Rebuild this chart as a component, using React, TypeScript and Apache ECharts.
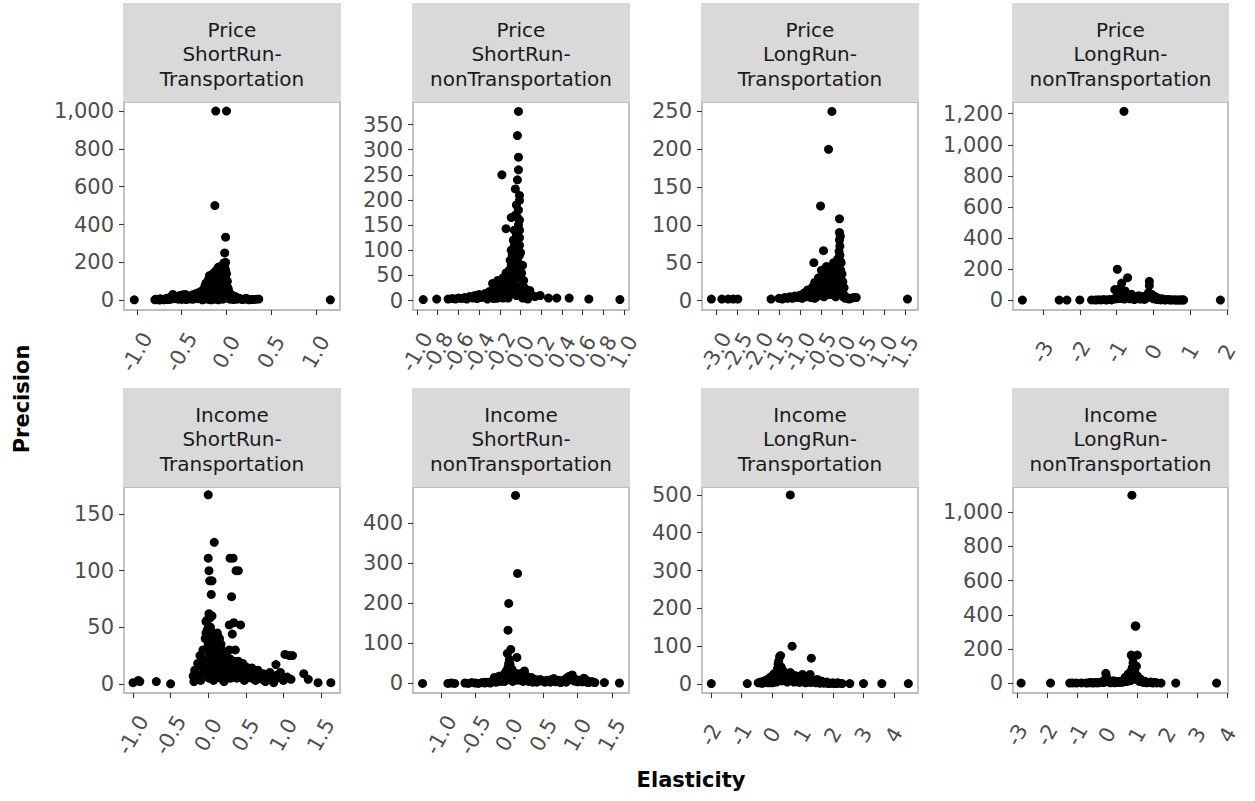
import React, { useEffect, useRef } from "react";
import * as echarts from "echarts";

// ---------- DATA ----------
const facetTitles: string[] = [
  "Price\nShortRun-\nTransportation",
  "Price\nShortRun-\nnonTransportation",
  "Price\nLongRun-\nTransportation",
  "Price\nLongRun-\nnonTransportation",
  "Income\nShortRun-\nTransportation",
  "Income\nShortRun-\nnonTransportation",
  "Income\nLongRun-\nTransportation",
  "Income\nLongRun-\nnonTransportation",
];

const priceSRT: number[][] = [
  [-1.03, 2], [-0.80, 2], [-0.79, 5], [-0.77, 3], [-0.75, 1], [-0.74, 8], [-0.72, 4], [-0.70, 2], [-0.68, 6], [-0.67, 10],
  [-0.65, 3], [-0.63, 15], [-0.62, 5], [-0.60, 30], [-0.58, 8], [-0.57, 20], [-0.55, 12], [-0.54, 5], [-0.52, 25], [-0.50, 4],
  [-0.49, 28], [-0.48, 18], [-0.46, 30], [-0.45, 3], [-0.44, 10], [-0.42, 22], [-0.41, 15], [-0.40, 6], [-0.38, 28], [-0.37, 5],
  [-0.36, 15], [-0.34, 35], [-0.33, 20], [-0.32, 8], [-0.31, 40], [-0.30, 20], [-0.29, 45], [-0.28, 12], [-0.27, 30], [-0.27, 2],
  [-0.26, 55], [-0.25, 5], [-0.24, 75], [-0.23, 90], [-0.23, 25], [-0.22, 40], [-0.22, 20], [-0.21, 60], [-0.21, 5], [-0.20, 110],
  [-0.20, 8], [-0.19, 130], [-0.19, 35], [-0.19, 12], [-0.18, 80], [-0.18, 3], [-0.17, 125], [-0.17, 50], [-0.17, 2], [-0.16, 95],
  [-0.16, 15], [-0.15, 140], [-0.15, 65], [-0.15, 30], [-0.14, 25], [-0.14, 110], [-0.13, 500], [-0.13, 150], [-0.13, 45], [-0.13, 5],
  [-0.12, 1000], [-0.12, 85], [-0.12, 10], [-0.11, 160], [-0.11, 120], [-0.11, 40], [-0.10, 60], [-0.10, 30], [-0.09, 175], [-0.09, 50],
  [-0.09, 2], [-0.08, 140], [-0.08, 90], [-0.07, 170], [-0.07, 40], [-0.07, 8], [-0.06, 150], [-0.06, 70], [-0.05, 180], [-0.05, 60],
  [-0.05, 20], [-0.04, 120], [-0.04, 5], [-0.03, 197], [-0.03, 100], [-0.03, 30], [-0.02, 250], [-0.02, 60], [-0.01, 333], [-0.01, 130],
  [-0.01, 45], [0.0, 1000], [0.0, 90], [0.0, 15], [0.01, 100], [0.02, 45], [0.02, 10], [0.03, 25], [0.04, 5], [0.05, 30],
  [0.06, 15], [0.07, 10], [0.08, 3], [0.10, 18], [0.12, 5], [0.15, 8], [0.18, 3], [0.20, 6], [0.22, 10], [0.25, 2],
  [0.28, 4], [0.33, 5], [0.36, 6], [1.16, 2],
  [-0.35, 25], [-0.33, 10], [-0.31, 22], [-0.29, 15], [-0.28, 35], [-0.26, 20], [-0.25, 45], [-0.24, 30], [-0.24, 10], [-0.23, 55],
  [-0.22, 70], [-0.21, 35], [-0.20, 50], [-0.20, 90], [-0.19, 70], [-0.18, 100], [-0.18, 45], [-0.17, 85], [-0.16, 60], [-0.16, 120],
  [-0.15, 100], [-0.14, 80], [-0.14, 50], [-0.13, 120], [-0.13, 90], [-0.12, 140], [-0.12, 60], [-0.11, 100], [-0.10, 130], [-0.10, 80],
  [-0.09, 120], [-0.08, 110], [-0.08, 60], [-0.07, 130], [-0.06, 100], [-0.06, 40], [-0.05, 140], [-0.04, 80], [-0.04, 160], [-0.03, 150],
  [-0.03, 60], [-0.02, 180], [-0.02, 120], [-0.01, 200], [-0.01, 160], [-0.01, 80], [0.0, 60], [0.0, 140], [0.01, 70], [0.01, 30],
  [0.02, 60], [0.03, 40], [0.04, 15], [0.05, 8], [0.06, 25], [0.08, 12], [0.09, 20], [0.11, 8], [0.13, 12], [0.17, 5],
  [0.24, 5], [0.30, 3],
];

const priceSRN: number[][] = [
  [-0.94, 2], [-0.81, 3], [-0.70, 3], [-0.66, 4], [-0.63, 3], [-0.60, 5], [-0.57, 4], [-0.54, 6], [-0.52, 3], [-0.49, 8],
  [-0.46, 5], [-0.44, 10], [-0.42, 4], [-0.40, 12], [-0.38, 6], [-0.36, 9], [-0.34, 14], [-0.32, 3], [-0.30, 18], [-0.29, 8],
  [-0.27, 34], [-0.26, 12], [-0.25, 22], [-0.24, 5], [-0.23, 28], [-0.22, 40], [-0.21, 15], [-0.20, 8], [-0.19, 35], [-0.18, 250],
  [-0.18, 20], [-0.17, 45], [-0.16, 10], [-0.15, 30], [-0.14, 143], [-0.14, 55], [-0.13, 25], [-0.12, 40], [-0.12, 5], [-0.11, 60],
  [-0.10, 35], [-0.09, 165], [-0.09, 70], [-0.08, 15], [-0.08, 50], [-0.07, 85], [-0.06, 30], [-0.06, 110], [-0.05, 222], [-0.05, 60],
  [-0.04, 130], [-0.04, 10], [-0.03, 328], [-0.03, 165], [-0.03, 80], [-0.02, 376], [-0.02, 285], [-0.02, 150], [-0.02, 45], [-0.01, 209],
  [-0.01, 199], [-0.01, 125], [-0.01, 110], [0.0, 95], [0.0, 20], [0.01, 55], [0.02, 70], [0.02, 5], [0.03, 40], [0.04, 25],
  [0.05, 20], [0.06, 8], [0.08, 12], [0.09, 20], [0.11, 10], [0.14, 8], [0.19, 10], [0.27, 5], [0.35, 5], [0.47, 5],
  [0.66, 3], [0.96, 2],
  [-0.06, 140], [-0.05, 100], [-0.05, 170], [-0.04, 190], [-0.04, 75], [-0.03, 240], [-0.03, 120], [-0.02, 260], [-0.02, 100], [-0.02, 180],
  [-0.01, 160], [-0.01, 140], [-0.01, 90], [0.0, 70], [0.0, 50], [0.01, 30], [-0.07, 40], [-0.08, 25], [-0.10, 15], [-0.11, 30],
  [-0.13, 10], [-0.15, 15], [-0.16, 25], [-0.17, 5], [-0.20, 20], [-0.22, 5], [-0.24, 15], [-0.26, 4], [-0.28, 10], [0.01, 10],
  [0.03, 15], [0.05, 5], [0.07, 3], [-0.09, 100], [-0.07, 120], [-0.10, 80], [-0.12, 55], [-0.08, 90], [-0.06, 65], [-0.11, 45],
];

const priceLRT: number[][] = [
  [-3.11, 2], [-2.86, 2], [-2.71, 2], [-2.59, 2], [-2.48, 2], [-1.69, 2], [-1.50, 3], [-1.42, 2], [-1.36, 4], [-1.30, 3],
  [-1.24, 5], [-1.18, 3], [-1.12, 6], [-1.06, 4], [-1.00, 7], [-0.95, 3], [-0.90, 10], [-0.86, 5], [-0.82, 14], [-0.78, 8],
  [-0.74, 4], [-0.70, 18], [-0.67, 50], [-0.65, 24], [-0.62, 10], [-0.59, 6], [-0.56, 30], [-0.53, 15], [-0.51, 125], [-0.49, 40],
  [-0.47, 20], [-0.44, 66], [-0.43, 5], [-0.41, 35], [-0.39, 25], [-0.37, 45], [-0.35, 12], [-0.33, 30], [-0.32, 200], [-0.30, 43],
  [-0.29, 8], [-0.27, 20], [-0.25, 38], [-0.24, 250], [-0.22, 28], [-0.20, 50], [-0.19, 15], [-0.17, 35], [-0.15, 5], [-0.14, 45],
  [-0.12, 25], [-0.10, 55], [-0.09, 10], [-0.07, 65], [-0.06, 108], [-0.06, 90], [-0.06, 80], [-0.05, 72], [-0.05, 30], [-0.04, 52],
  [-0.04, 15], [-0.03, 40], [-0.02, 20], [0.0, 35], [0.01, 18], [0.03, 5], [0.05, 17], [0.08, 3], [0.12, 4], [0.17, 2],
  [0.22, 3], [0.28, 4], [0.34, 4], [1.56, 2],
  [-0.50, 10], [-0.45, 20], [-0.42, 12], [-0.38, 8], [-0.36, 30], [-0.34, 18], [-0.31, 25], [-0.28, 35], [-0.26, 10], [-0.23, 40],
  [-0.21, 20], [-0.18, 28], [-0.16, 42], [-0.13, 15], [-0.11, 35], [-0.08, 25], [-0.07, 45], [-0.05, 60], [-0.04, 85], [-0.03, 28],
  [-0.02, 50], [-0.01, 10], [0.02, 25], [0.04, 8], [-0.60, 5], [-0.55, 8], [-0.65, 3], [-0.72, 6],
];

const priceLRN: number[][] = [
  [-3.56, 2], [-2.56, 2], [-2.35, 2], [-2.00, 3], [-1.68, 3], [-1.58, 2], [-1.50, 4], [-1.42, 3], [-1.35, 5], [-1.28, 2],
  [-1.20, 6], [-1.14, 3], [-1.08, 8], [-1.05, 69], [-1.02, 15], [-0.98, 200], [-0.95, 30], [-0.92, 12], [-0.89, 45], [-0.86, 111],
  [-0.84, 20], [-0.80, 1215], [-0.79, 8], [-0.77, 60], [-0.74, 25], [-0.70, 146], [-0.68, 35], [-0.64, 10], [-0.60, 40], [-0.56, 18],
  [-0.52, 5], [-0.48, 22], [-0.44, 12], [-0.40, 30], [-0.36, 8], [-0.32, 15], [-0.28, 25], [-0.24, 6], [-0.20, 18], [-0.16, 35],
  [-0.13, 50], [-0.11, 122], [-0.11, 96], [-0.08, 30], [-0.05, 40], [-0.03, 20], [0.0, 10], [0.04, 25], [0.08, 8], [0.12, 15],
  [0.18, 5], [0.24, 10], [0.30, 3], [0.38, 6], [0.45, 2], [0.55, 4], [0.64, 2], [0.72, 3], [0.82, 2], [1.82, 2],
  [-1.00, 10], [-0.96, 50], [-0.93, 25], [-0.90, 80], [-0.88, 30], [-0.85, 55], [-0.82, 40], [-0.78, 20], [-0.75, 45], [-0.72, 30],
  [-0.66, 20], [-0.62, 12], [-0.58, 28], [-0.50, 10], [-0.46, 15], [-0.38, 20], [-0.30, 10], [-0.26, 18], [-0.22, 12], [-0.18, 25],
  [-0.14, 20], [-0.10, 35], [-0.06, 25], [-0.02, 30], [0.02, 15], [0.06, 20], [0.10, 5], [0.15, 10], [0.20, 3], [0.28, 6],
  [0.34, 3], [0.42, 5], [0.50, 3], [0.60, 2], [0.68, 3], [0.76, 2], [0.80, 4],
];

const incomeSRT: number[][] = [
  [-1.00, 1], [-0.93, 3], [-0.91, 2], [-0.69, 2], [-0.50, 0], [-0.20, 7], [-0.19, 2], [-0.18, 12], [-0.16, 4], [-0.14, 18],
  [-0.12, 8], [-0.11, 25], [-0.10, 3], [-0.08, 15], [-0.07, 30], [-0.05, 10], [-0.04, 30], [-0.03, 55], [-0.02, 56], [-0.01, 48],
  [0.0, 167], [0.0, 111], [0.0, 20], [0.01, 100], [0.01, 62], [0.01, 5], [0.02, 91], [0.02, 40], [0.03, 35], [0.04, 79],
  [0.04, 12], [0.05, 91], [0.05, 25], [0.06, 45], [0.07, 3], [0.08, 125], [0.08, 30], [0.09, 18], [0.10, 38], [0.11, 8],
  [0.12, 22], [0.13, 42], [0.14, 15], [0.15, 30], [0.16, 5], [0.17, 35], [0.18, 20], [0.19, 10], [0.20, 28], [0.21, 2],
  [0.22, 15], [0.23, 25], [0.24, 8], [0.25, 18], [0.26, 12], [0.28, 52], [0.28, 30], [0.29, 111], [0.30, 5], [0.31, 77],
  [0.32, 44], [0.33, 111], [0.33, 20], [0.34, 54], [0.35, 10], [0.36, 30], [0.37, 100], [0.38, 15], [0.40, 100], [0.41, 6],
  [0.43, 52], [0.44, 18], [0.46, 12], [0.48, 3], [0.50, 15], [0.52, 8], [0.55, 12], [0.58, 5], [0.60, 10], [0.63, 3],
  [0.66, 12], [0.70, 6], [0.73, 9], [0.76, 2], [0.80, 8], [0.84, 4], [0.87, 1], [0.90, 17], [0.93, 6], [0.96, 10],
  [1.00, 3], [1.02, 26], [1.05, 6], [1.08, 25], [1.10, 4], [1.12, 25], [1.27, 9], [1.33, 4], [1.46, 1], [1.63, 1],
  [-0.06, 22], [-0.04, 40], [-0.02, 15], [-0.01, 8], [0.0, 35], [0.01, 28], [0.02, 12], [0.03, 50], [0.04, 22], [0.05, 5],
  [0.06, 33], [0.07, 18], [0.08, 10], [0.09, 40], [0.10, 25], [0.11, 15], [0.12, 32], [0.13, 8], [0.14, 28], [0.15, 12],
  [0.16, 22], [0.17, 14], [0.18, 30], [0.19, 25], [0.20, 15], [0.21, 20], [0.22, 8], [0.23, 12], [0.24, 20], [0.25, 28],
  [0.26, 5], [0.27, 18], [0.29, 22], [0.30, 14], [0.32, 8], [0.34, 20], [0.36, 16], [0.38, 5], [0.40, 20], [0.42, 12],
  [0.44, 8], [0.46, 18], [0.48, 10], [0.50, 5], [0.52, 14], [0.54, 6], [0.56, 10], [0.58, 14], [0.62, 7], [0.64, 10],
  [0.68, 5], [0.72, 4], [0.75, 8], [0.78, 5], [0.82, 10], [0.86, 6], [0.88, 3], [0.92, 8], [0.98, 5], [0.05, 60],
  [0.02, 58], [-0.03, 45], [0.06, 38], [0.12, 45], [0.15, 40],
];

const incomeSRN: number[][] = [
  [-1.27, 0], [-0.90, 0], [-0.85, 1], [-0.80, 0], [-0.65, 1], [-0.60, 0], [-0.55, 2], [-0.50, 1], [-0.45, 0], [-0.40, 2],
  [-0.36, 1], [-0.30, 3], [-0.25, 5], [-0.22, 15], [-0.20, 3], [-0.17, 10], [-0.15, 18], [-0.12, 5], [-0.10, 20], [-0.08, 8],
  [-0.06, 25], [-0.04, 12], [-0.03, 75], [-0.02, 133], [-0.02, 40], [-0.01, 200], [-0.01, 30], [0.0, 60], [0.0, 10], [0.01, 48],
  [0.02, 85], [0.02, 20], [0.04, 35], [0.05, 5], [0.07, 15], [0.09, 470], [0.10, 25], [0.11, 65], [0.12, 275], [0.13, 8],
  [0.15, 18], [0.18, 10], [0.22, 31], [0.25, 12], [0.28, 5], [0.32, 15], [0.36, 8], [0.40, 3], [0.45, 10], [0.50, 5],
  [0.55, 8], [0.60, 3], [0.65, 12], [0.70, 6], [0.75, 2], [0.80, 9], [0.85, 15], [0.90, 10], [0.92, 21], [0.97, 10],
  [1.00, 4], [1.04, 6], [1.09, 13], [1.13, 3], [1.18, 5], [1.39, 2], [1.61, 1],
  [-0.35, 3], [-0.28, 1], [-0.18, 4], [-0.14, 8], [-0.09, 12], [-0.07, 5], [-0.05, 30], [-0.03, 18], [-0.01, 50], [0.0, 25],
  [0.01, 15], [0.03, 10], [0.06, 20], [0.08, 8], [0.14, 12], [0.17, 25], [0.20, 5], [0.24, 20], [0.30, 8], [0.34, 3],
  [0.38, 10], [0.42, 5], [0.48, 7], [0.52, 3], [0.58, 6], [0.62, 10], [0.68, 4], [0.72, 8], [0.78, 5], [0.83, 3],
  [0.88, 18], [0.95, 6], [1.02, 8], [1.07, 4], [1.11, 10], [1.16, 2], [1.22, 4], [1.25, 2],
];

const incomeLRT: number[][] = [
  [-1.99, 1], [-0.81, 1], [-0.45, 3], [-0.38, 5], [-0.30, 2], [-0.25, 8], [-0.20, 4], [-0.15, 12], [-0.10, 6], [-0.05, 18],
  [0.0, 3], [0.05, 25], [0.08, 10], [0.12, 30], [0.15, 5], [0.18, 40], [0.20, 52], [0.22, 60], [0.24, 15], [0.25, 72],
  [0.28, 75], [0.30, 20], [0.33, 8], [0.36, 35], [0.40, 12], [0.45, 25], [0.50, 5], [0.55, 18], [0.60, 500], [0.60, 30],
  [0.66, 100], [0.70, 10], [0.75, 22], [0.80, 6], [0.85, 15], [0.90, 4], [0.95, 12], [1.00, 25], [1.05, 8], [1.10, 3],
  [1.15, 14], [1.20, 5], [1.25, 25], [1.29, 68], [1.33, 10], [1.40, 5], [1.48, 12], [1.55, 3], [1.62, 8], [1.70, 2],
  [1.80, 5], [1.90, 2], [2.00, 3], [2.10, 1], [2.20, 2], [2.30, 1], [2.55, 1], [3.00, 1], [3.60, 1], [4.47, 1],
  [0.10, 20], [0.14, 15], [0.20, 30], [0.22, 42], [0.26, 35], [0.30, 45], [0.34, 22], [0.38, 18], [0.42, 10], [0.48, 15],
  [0.52, 28], [0.58, 12], [0.62, 22], [0.68, 18], [0.72, 5], [0.78, 12], [0.82, 20], [0.88, 8], [0.92, 18], [0.98, 6],
  [1.02, 14], [1.08, 18], [1.12, 6], [1.18, 10], [1.22, 15], [1.28, 4], [1.36, 8], [1.44, 3], [1.52, 6], [1.58, 2],
  [1.66, 4], [1.75, 3], [1.85, 1], [1.95, 2], [2.05, 1], [2.15, 3], [-0.35, 2], [-0.28, 6], [-0.18, 10], [-0.12, 3],
  [-0.02, 8], [0.02, 12], [0.07, 5],
];

const incomeLRN: number[][] = [
  [-2.87, 1], [-1.89, 1], [-1.25, 1], [-1.15, 2], [-1.03, 1], [-0.86, 2], [-0.60, 3], [-0.50, 2], [-0.40, 5], [-0.30, 3],
  [-0.20, 8], [-0.12, 4], [-0.05, 58], [-0.02, 20], [0.05, 10], [0.12, 5], [0.20, 15], [0.28, 8], [0.35, 4], [0.42, 12],
  [0.50, 6], [0.55, 20], [0.60, 35], [0.65, 10], [0.70, 55], [0.74, 25], [0.78, 15], [0.80, 165], [0.82, 1100], [0.84, 60],
  [0.86, 120], [0.88, 85], [0.90, 40], [0.93, 335], [0.95, 335], [0.97, 100], [1.00, 165], [1.02, 30], [1.05, 15], [1.10, 25],
  [1.18, 8], [1.25, 12], [1.35, 5], [1.45, 8], [1.55, 3], [1.65, 2], [1.79, 1], [2.28, 1], [3.64, 1],
  [-0.70, 1], [-0.55, 5], [-0.45, 2], [-0.35, 3], [-0.25, 5], [-0.15, 8], [-0.08, 20], [-0.03, 40], [0.0, 15], [0.10, 3],
  [0.16, 8], [0.24, 3], [0.32, 10], [0.38, 5], [0.46, 8], [0.52, 12], [0.58, 18], [0.63, 25], [0.67, 30], [0.72, 40],
  [0.76, 45], [0.79, 70], [0.83, 90], [0.85, 150], [0.87, 55], [0.89, 100], [0.91, 70], [0.94, 50], [0.96, 25], [0.99, 45],
  [1.03, 20], [1.08, 10], [1.13, 15], [1.20, 5], [1.30, 3], [1.40, 5], [1.50, 2], [1.60, 4],
];

const panelData: number[][][] = [priceSRT, priceSRN, priceLRT, priceLRN, incomeSRT, incomeSRN, incomeLRT, incomeLRN];

const xTicks: number[][] = [
  [-1, -0.5, 0, 0.5, 1],
  [-1, -0.8, -0.6, -0.4, -0.2, 0, 0.2, 0.4, 0.6, 0.8, 1],
  [-3, -2.5, -2, -1.5, -1, -0.5, 0, 0.5, 1, 1.5],
  [-3, -2, -1, 0, 1, 2],
  [-1, -0.5, 0, 0.5, 1, 1.5],
  [-1, -0.5, 0, 0.5, 1, 1.5],
  [-2, -1, 0, 1, 2, 3, 4],
  [-3, -2, -1, 0, 1, 2, 3, 4],
];
const xDigits: number[] = [1, 1, 1, 0, 1, 1, 0, 0];

const yTicks: number[][] = [
  [0, 200, 400, 600, 800, 1000],
  [0, 50, 100, 150, 200, 250, 300, 350],
  [0, 50, 100, 150, 200, 250],
  [0, 200, 400, 600, 800, 1000, 1200],
  [0, 50, 100, 150],
  [0, 100, 200, 300, 400],
  [0, 100, 200, 300, 400, 500],
  [0, 200, 400, 600, 800, 1000],
];

const xLimits: number[][] = [
  [-1.145, 1.268], [-1.039, 1.048], [-3.333, 1.81], [-3.815, 2.027],
  [-1.12, 1.752], [-1.41, 1.75], [-2.295, 4.787], [-3.14, 4.02],
];
const yLimits: number[][] = [
  [-52, 1048], [-18.8, 394.8], [-12.5, 262.5], [-62, 1275],
  [-8.1, 173.9], [-24, 491], [-24, 521], [-57, 1148],
];

// ---------- LAYOUT ----------
const colLeft = [124, 413, 702, 1013];
const colWidth = [216, 216, 216, 215];
const rowTop = [102, 487];
const rowHeight = [208, 206];
const stripTop = [3, 388];
const stripHeight = 99;
// dense tick labels are split over several overlaid axes so none get hidden
const labelGroups = [1, 3, 3, 1, 2, 2, 2, 2];

const FONT = "'DejaVu Sans', 'Liberation Sans', Arial, sans-serif";

function buildOption() {
  const grid: any[] = [];
  const xAxis: any[] = [];
  const yAxis: any[] = [];
  const series: any[] = [];
  const graphic: any[] = [];

  panelData.forEach((pts, i) => {
    const r = Math.floor(i / 4);
    const c = i % 4;
    const left = colLeft[c];
    const width = colWidth[c];
    grid.push({
      left,
      top: rowTop[r],
      width,
      height: rowHeight[r],
      show: true,
      backgroundColor: "#FFFFFF",
      borderColor: "#BDBDBD",
      borderWidth: 1.8,
      containLabel: false,
      outerBoundsMode: "none",
    });
    const digits = xDigits[i];
    const fmt = (v: number) => (Math.abs(v) < 1e-9 ? (0).toFixed(digits) : v.toFixed(digits));
    const k = labelGroups[i];
    const primaryIndex = xAxis.length;
    for (let g = 0; g < k; g++) {
      const vals = xTicks[i].filter((_, j) => j % k === g);
      xAxis.push({
        gridIndex: i,
        type: "value",
        position: "bottom",
        min: xLimits[i][0],
        max: xLimits[i][1],
        axisLine: { show: false, onZero: false },
        axisTick:
          g === 0
            ? { show: true, length: 5, lineStyle: { color: "#333333", width: 1.1 }, customValues: xTicks[i] }
            : { show: false },
        axisLabel: {
          customValues: vals,
          rotate: 60,
          align: "center",
          verticalAlign: "middle",
          margin: 42,
          color: "#4D4D4D",
          fontSize: 21,
          fontFamily: FONT,
          hideOverlap: false,
          showMinLabel: true,
          showMaxLabel: true,
          formatter: fmt,
        },
        splitLine: { show: false },
      });
    }
    yAxis.push({
      gridIndex: i,
      type: "value",
      min: yLimits[i][0],
      max: yLimits[i][1],
      axisLine: { show: false, onZero: false },
      axisTick: { show: true, length: 5, lineStyle: { color: "#333333", width: 1.1 }, customValues: yTicks[i] },
      axisLabel: {
        customValues: yTicks[i],
        margin: 10,
        color: "#4D4D4D",
        fontSize: 21,
        fontFamily: FONT,
        hideOverlap: false,
        showMinLabel: true,
        showMaxLabel: true,
        formatter: (v: number) => Math.round(v).toLocaleString("en-US"),
      },
      splitLine: { show: false },
    });
    series.push({
      type: "scatter",
      xAxisIndex: primaryIndex,
      yAxisIndex: i,
      data: pts,
      symbol: "circle",
      symbolSize: 9,
      itemStyle: { color: "#000000", opacity: 1 },
      silent: true,
    });
    graphic.push({
      type: "rect",
      shape: { x: left - 1, y: stripTop[r], width: width + 2, height: stripHeight },
      style: { fill: "#D9D9D9" },
      silent: true,
    });
    graphic.push({
      type: "text",
      x: left + width / 2,
      y: stripTop[r] + 51,
      style: {
        text: facetTitles[i],
        fill: "#1A1A1A",
        fontSize: 20,
        fontFamily: FONT,
        align: "center",
        verticalAlign: "middle",
        lineHeight: 24.5,
      },
      silent: true,
    });
  });

  graphic.push({
    type: "text",
    x: 22,
    y: 399,
    rotation: Math.PI / 2,
    style: {
      text: "Precision",
      fill: "#000000",
      fontSize: 21,
      fontWeight: "bold",
      fontFamily: FONT,
      align: "center",
      verticalAlign: "middle",
    },
  });
  graphic.push({
    type: "text",
    x: 691,
    y: 780,
    style: {
      text: "Elasticity",
      fill: "#000000",
      fontSize: 21,
      fontWeight: "bold",
      fontFamily: FONT,
      align: "center",
      verticalAlign: "middle",
    },
  });

  return {
    animation: false,
    backgroundColor: "#FFFFFF",
    grid,
    xAxis,
    yAxis,
    series,
    graphic,
  };
}

export default function App() {
  const ref = useRef<HTMLDivElement>(null);
  useEffect(() => {
    if (!ref.current) return;
    const chart = echarts.init(ref.current, null, { renderer: "svg" });
    chart.setOption(buildOption() as any);
    return () => chart.dispose();
  }, []);
  return (
    <div
      ref={ref}
      style={{ position: "fixed", left: 0, top: 0, width: 1255, height: 801, background: "#FFFFFF" }}
    />
  );
}
